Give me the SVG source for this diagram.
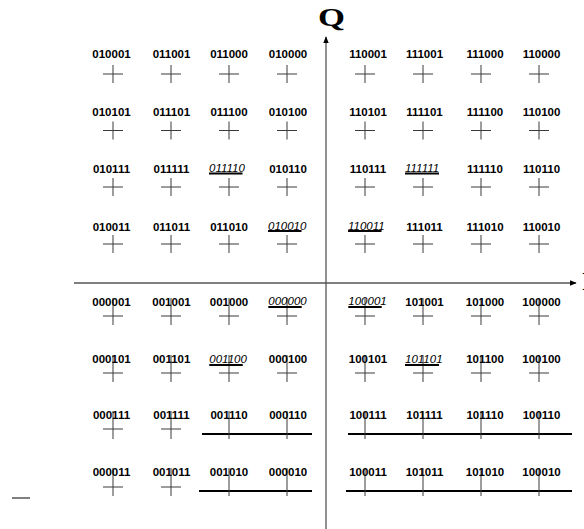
<svg xmlns="http://www.w3.org/2000/svg" width="584" height="529" viewBox="0 0 584 529">
<defs>
<marker id="ah" viewBox="0 0 10 10" refX="9" refY="5" markerWidth="7" markerHeight="7" markerUnits="userSpaceOnUse" orient="auto"><path d="M0,1 L10,5 L0,9 z" fill="#000"/></marker>
<style>
.l{font-family:"Liberation Sans",Arial,sans-serif;font-size:11.5px;font-weight:bold;fill:#000;text-anchor:middle}
.i{font-family:"Liberation Sans",Arial,sans-serif;font-size:11.5px;font-style:italic;fill:#000}
.c{stroke:#3a3a3a;stroke-width:1;fill:none}
.u{stroke:#000;stroke-width:2}
.b{stroke:#000;stroke-width:2}
.ax{stroke:#555;stroke-width:1.3;fill:none}
.t{font-family:"Liberation Serif","Times New Roman",serif;font-weight:bold;fill:#000}
</style>
</defs>
<rect width="584" height="529" fill="#fff"/>
<g id="axes">
<line class="ax" x1="326" y1="529" x2="326" y2="37" marker-end="url(#ah)"/>
<line class="ax" x1="74" y1="283" x2="576" y2="283" marker-end="url(#ah)"/>
<text class="t" x="331.5" y="26" font-size="25" text-anchor="middle" textLength="27" lengthAdjust="spacingAndGlyphs">Q</text>
<text class="t" x="582" y="290" font-size="25">I</text>
<line x1="12" y1="498" x2="30" y2="498" stroke="#000" stroke-width="1"/>
</g>
<g id="lines">
<line class="b" x1="202" y1="434" x2="312" y2="434"/>
<line class="b" x1="199" y1="491" x2="312" y2="491"/>
<line class="b" x1="348" y1="434" x2="572" y2="434"/>
<line class="b" x1="346" y1="491" x2="572" y2="491"/>
</g>
<!-- Row 1 -->
<g id="n010001"><text class="l" x="111.5" y="58">010001</text><path class="c" d="M103,74H123M113,65V83"/></g>
<g id="n011001"><text class="l" x="171.5" y="58">011001</text><path class="c" d="M161,74H181M171,65V83"/></g>
<g id="n011000"><text class="l" x="229" y="58">011000</text><path class="c" d="M219,74H239M229,65V83"/></g>
<g id="n010000"><text class="l" x="288" y="58">010000</text><path class="c" d="M277,74H297M287,65V83"/></g>
<g id="n110001"><text class="l" x="368" y="58">110001</text><path class="c" d="M355,74H375M365,65V83"/></g>
<g id="n111001"><text class="l" x="424.5" y="58">111001</text><path class="c" d="M413,74H433M423,65V83"/></g>
<g id="n111000"><text class="l" x="485" y="58">111000</text><path class="c" d="M471,74H491M481,65V83"/></g>
<g id="n110000"><text class="l" x="541.5" y="58">110000</text><path class="c" d="M529,74H549M539,65V83"/></g>
<!-- Row 2 -->
<g id="n010101"><text class="l" x="111.5" y="115.5">010101</text><path class="c" d="M103,130.5H123M113,121.5V139.5"/></g>
<g id="n011101"><text class="l" x="171.5" y="115.5">011101</text><path class="c" d="M161,130.5H181M171,121.5V139.5"/></g>
<g id="n011100"><text class="l" x="229" y="115.5">011100</text><path class="c" d="M219,130.5H239M229,121.5V139.5"/></g>
<g id="n010100"><text class="l" x="288" y="115.5">010100</text><path class="c" d="M277,130.5H297M287,121.5V139.5"/></g>
<g id="n110101"><text class="l" x="368" y="115.5">110101</text><path class="c" d="M355,130.5H375M365,121.5V139.5"/></g>
<g id="n111101"><text class="l" x="424.5" y="115.5">111101</text><path class="c" d="M413,130.5H433M423,121.5V139.5"/></g>
<g id="n111100"><text class="l" x="485" y="115.5">111100</text><path class="c" d="M471,130.5H491M481,121.5V139.5"/></g>
<g id="n110100"><text class="l" x="541.5" y="115.5">110100</text><path class="c" d="M529,130.5H549M539,121.5V139.5"/></g>
<!-- Row 3 -->
<g id="n010111"><text class="l" x="111.5" y="173">010111</text><path class="c" d="M103,187H123M113,178V196"/></g>
<g id="n011111"><text class="l" x="171.5" y="173">011111</text><path class="c" d="M161,187H181M171,178V196"/></g>
<g id="n011110"><text class="i" x="209" y="172">011110</text><line class="u" x1="209" y1="173.5" x2="242.5" y2="173.5"/><path class="c" d="M219,187H239M229,178V196"/></g>
<g id="n010110"><text class="l" x="288" y="173">010110</text><path class="c" d="M277,187H297M287,178V196"/></g>
<g id="n110111"><text class="l" x="368" y="173">110111</text><path class="c" d="M355,187H375M365,178V196"/></g>
<g id="n111111"><text class="i" x="405" y="172">111111</text><line class="u" x1="405" y1="173.5" x2="439" y2="173.5"/><path class="c" d="M413,187H433M423,178V196"/></g>
<g id="n111110"><text class="l" x="485" y="173">111110</text><path class="c" d="M471,187H491M481,178V196"/></g>
<g id="n110110"><text class="l" x="541.5" y="173">110110</text><path class="c" d="M529,187H549M539,178V196"/></g>
<!-- Row 4 -->
<g id="n010011"><text class="l" x="111.5" y="230.5">010011</text><path class="c" d="M103,244H123M113,235V253"/></g>
<g id="n011011"><text class="l" x="171.5" y="230.5">011011</text><path class="c" d="M161,244H181M171,235V253"/></g>
<g id="n011010"><text class="l" x="229" y="230.5">011010</text><path class="c" d="M219,244H239M229,235V253"/></g>
<g id="n010010"><text class="i" x="268" y="229.5">010010</text><line class="u" x1="268" y1="231" x2="301.5" y2="231"/><path class="c" d="M277,244H297M287,235V253"/></g>
<g id="n110011"><text class="i" x="348" y="229.5">110011</text><line class="u" x1="348" y1="231" x2="381.5" y2="231"/><path class="c" d="M355,244H375M365,235V253"/></g>
<g id="n111011"><text class="l" x="424.5" y="230.5">111011</text><path class="c" d="M413,244H433M423,235V253"/></g>
<g id="n111010"><text class="l" x="485" y="230.5">111010</text><path class="c" d="M471,244H491M481,235V253"/></g>
<g id="n110010"><text class="l" x="541.5" y="230.5">110010</text><path class="c" d="M529,244H549M539,235V253"/></g>
<!-- Row 5 -->
<g id="n000001"><path class="c" d="M103,316H123M113,298V325"/><text class="l" x="111.5" y="306">000001</text></g>
<g id="n001001"><path class="c" d="M161,316H181M171,298V325"/><text class="l" x="171.5" y="306">001001</text></g>
<g id="n001000"><path class="c" d="M219,316H239M229,298V325"/><text class="l" x="229" y="306">001000</text></g>
<g id="n000000"><path class="c" d="M277,316H297M287,298V325"/><text class="i" x="268.3" y="305">000000</text><line class="u" x1="268.3" y1="307" x2="301.7" y2="307"/></g>
<g id="n100001"><path class="c" d="M355,316H375M365,298V325"/><text class="i" x="348.3" y="305">100001</text><line class="u" x1="348.3" y1="307" x2="381.7" y2="307"/></g>
<g id="n101001"><path class="c" d="M413,316H433M423,298V325"/><text class="l" x="424.5" y="306">101001</text></g>
<g id="n101000"><path class="c" d="M471,316H491M481,298V325"/><text class="l" x="485" y="306">101000</text></g>
<g id="n100000"><path class="c" d="M529,316H549M539,298V325"/><text class="l" x="541.5" y="306">100000</text></g>
<!-- Row 6 -->
<g id="n000101"><path class="c" d="M103,373H123M113,355V382"/><text class="l" x="111.5" y="363.3">000101</text></g>
<g id="n001101"><path class="c" d="M161,373H181M171,355V382"/><text class="l" x="171.5" y="363.3">001101</text></g>
<g id="n001100"><path class="c" d="M219,373H239M229,355V382"/><text class="i" x="209.3" y="362.5">001100</text><line class="u" x1="209.3" y1="365" x2="242.7" y2="365"/></g>
<g id="n000100"><path class="c" d="M277,373H297M287,355V382"/><text class="l" x="288" y="363.3">000100</text></g>
<g id="n100101"><path class="c" d="M355,373H375M365,355V382"/><text class="l" x="368" y="363.3">100101</text></g>
<g id="n101101"><path class="c" d="M413,373H433M423,355V382"/><text class="i" x="405" y="362.5">101101</text><line class="u" x1="405" y1="365" x2="439" y2="365"/></g>
<g id="n101100"><path class="c" d="M471,373H491M481,355V382"/><text class="l" x="485" y="363.3">101100</text></g>
<g id="n100100"><path class="c" d="M529,373H549M539,355V382"/><text class="l" x="541.5" y="363.3">100100</text></g>
<!-- Row 7 -->
<g id="n000111"><path class="c" d="M103,429H123M113,411V439"/><text class="l" x="111.5" y="419.3">000111</text></g>
<g id="n001111"><path class="c" d="M161,429H181M171,411V439"/><text class="l" x="171.5" y="419.3">001111</text></g>
<g id="n001110"><path class="c" d="M229,411V439"/><text class="l" x="229" y="419.3">001110</text></g>
<g id="n000110"><path class="c" d="M287,411V439"/><text class="l" x="288" y="419.3">000110</text></g>
<g id="n100111"><path class="c" d="M365,411V439"/><text class="l" x="368" y="419.3">100111</text></g>
<g id="n101111"><path class="c" d="M423,411V439"/><text class="l" x="424.5" y="419.3">101111</text></g>
<g id="n101110"><path class="c" d="M481,411V439"/><text class="l" x="485" y="419.3">101110</text></g>
<g id="n100110"><path class="c" d="M539,411V439"/><text class="l" x="541.5" y="419.3">100110</text></g>
<!-- Row 8 -->
<g id="n000011"><path class="c" d="M103,487H123M113,468V496"/><text class="l" x="111.5" y="476">000011</text></g>
<g id="n001011"><path class="c" d="M161,487H181M171,468V496"/><text class="l" x="171.5" y="476">001011</text></g>
<g id="n001010"><path class="c" d="M229,468V496"/><text class="l" x="229" y="476">001010</text></g>
<g id="n000010"><path class="c" d="M287,468V496"/><text class="l" x="288" y="476">000010</text></g>
<g id="n100011"><path class="c" d="M365,468V496"/><text class="l" x="368" y="476">100011</text></g>
<g id="n101011"><path class="c" d="M423,468V496"/><text class="l" x="424.5" y="476">101011</text></g>
<g id="n101010"><path class="c" d="M481,468V496"/><text class="l" x="485" y="476">101010</text></g>
<g id="n100010"><path class="c" d="M539,468V496"/><text class="l" x="541.5" y="476">100010</text></g>
</svg>
